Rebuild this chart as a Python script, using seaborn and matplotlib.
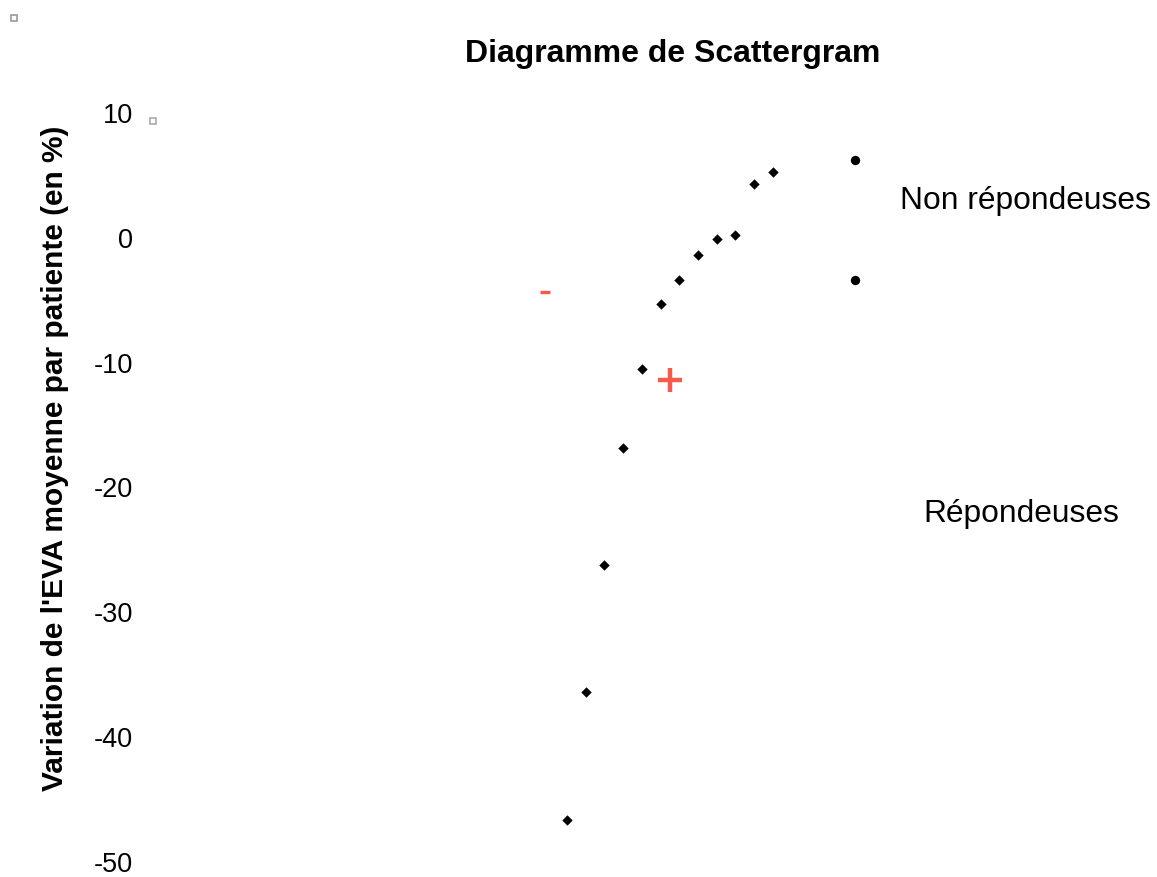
import numpy as np
import pandas as pd
import matplotlib
matplotlib.use("Agg")
import matplotlib.pyplot as plt
import seaborn as sns

# ---- data ----
ranks = [1, 2, 3, 4, 5, 6, 7, 8, 9, 10, 11, 12]
variation = [-46.6, -36.4, -26.2, -16.8, -10.5, -5.3, -3.4, -1.4, -0.1, 0.2, 4.3, 5.3]
yticks = [10, 0, -10, -20, -30, -40, -50]
group_labels = ["Non répondeuses", "Répondeuses"]
group_marker_y = [6.2, -3.4]
title = "Diagramme de Scattergram"
ylabel = "Variation de l'EVA moyenne par patiente (en %)"

sns.set_theme(style="white")
plt.rcParams['font.family'] = ['Liberation Sans', 'DejaVu Sans']
plt.rcParams['text.color'] = 'black'
plt.rcParams['ytick.color'] = 'black'
plt.rcParams['ytick.labelcolor'] = 'black'

W, H = 1157, 877
fig = plt.figure(figsize=(W / 100, H / 100), dpi=100)
left, right, top, bottom = 150, 1140, 113, 862
ax = fig.add_axes([left / W, 1 - bottom / H, (right - left) / W, (bottom - top) / H])

df = pd.DataFrame({"rang": ranks, "variation": variation})
sns.scatterplot(data=df, x="rang", y="variation", marker="D", s=28, color="black",
                linewidth=0, ax=ax, zorder=3)

# mean (+) and median (-)
mean_x = np.mean(ranks)
mean_y = np.mean(variation)
median_y = np.median(variation)
ax.plot([mean_x], [mean_y], marker="+", markersize=17, markeredgewidth=3.2,
        color="#f65a4c", linestyle="none", zorder=4)
ax.plot([-0.2], [median_y], marker="_", markersize=7, markeredgewidth=2.4,
        color="#f65a4c", linestyle="none", zorder=4)

# group markers at right
ax.scatter([16.4] * 2, group_marker_y, marker="o", s=45, color="black",
           linewidth=0, zorder=3)

ax.set_xlim(-21.3, 31.64)
ax.set_ylim(-50, 10)
ax.set_yticks(yticks)
ax.set_yticklabels([str(t) for t in yticks], fontsize=19.5, color="black")
ax.set_xticks([])
ax.tick_params(axis="y", length=0, pad=12.5)
ax.set_xlabel("")
ax.set_ylabel("")
for sp in ax.spines.values():
    sp.set_visible(False)
ax.patch.set_alpha(0)

fig.text(673 / W, 1 - 54 / H, title, ha="center", va="center",
         fontsize=23, fontweight="bold", color="black")
fig.text(55 / W, 1 - 458 / H, ylabel, ha="center", va="center",
         rotation=90, fontsize=21.5, fontweight="bold", color="black")
fig.text(1025 / W, 1 - 201 / H, group_labels[0], ha="center", va="center",
         fontsize=22.9, color="black")
fig.text(1021 / W, 1 - 514 / H, group_labels[1], ha="center", va="center",
         fontsize=22.9, color="black")

# small artefact squares
fig.add_artist(plt.Line2D([14 / W], [1 - 18 / H], marker="s", markersize=4,
                          markerfacecolor="white", markeredgecolor="#999999",
                          markeredgewidth=1.2, linestyle="none"))
fig.add_artist(plt.Line2D([153 / W], [1 - 121 / H], marker="s", markersize=4,
                          markerfacecolor="white", markeredgecolor="#aaaaaa",
                          markeredgewidth=1.2, linestyle="none"))

fig.savefig("out.png", dpi=100)
